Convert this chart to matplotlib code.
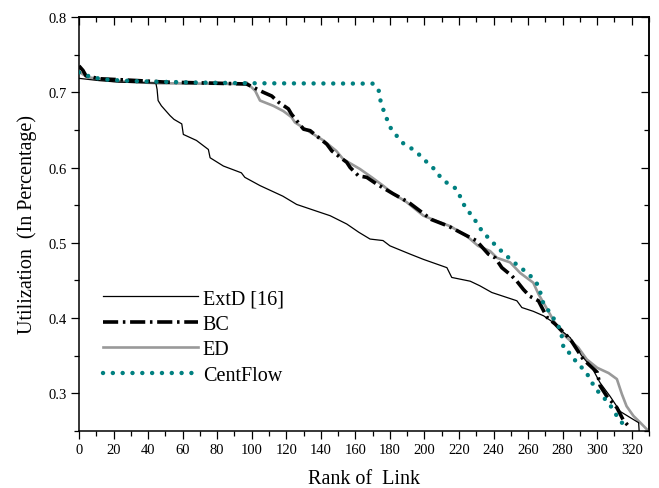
import matplotlib
matplotlib.use("Agg")
import matplotlib.pyplot as plt
from matplotlib.ticker import MultipleLocator, FormatStrFormatter

plt.rcParams['font.family'] = ['Liberation Serif', 'DejaVu Serif']

# ---- data ----
extd_x = [0, 11.6, 23, 44.5, 45.2, 45.8, 47.7, 52.7, 55, 59.5, 60.4, 68, 74.9, 75.9, 83.6, 94, 96,
          104.8, 118, 126, 137.6, 145.4, 155, 162, 168.5, 176, 180, 191.7, 199.4, 213, 215.8,
          226.5, 232, 239, 253.5, 256.4, 263, 269, 274.7, 280.5, 284.4, 291, 297, 301.7, 307.5,
          313.3, 319, 324, 324.3]
extd_y = [0.7185, 0.7155, 0.7135, 0.7122, 0.704, 0.689, 0.682, 0.669, 0.664, 0.658, 0.644, 0.636,
          0.624, 0.613, 0.602, 0.593, 0.587, 0.576, 0.562, 0.551, 0.542, 0.536, 0.525, 0.514,
          0.505, 0.503, 0.496, 0.485, 0.478, 0.467, 0.454, 0.449, 0.443, 0.434, 0.423, 0.414,
          0.409, 0.403, 0.394, 0.381, 0.374, 0.350, 0.334, 0.314, 0.296, 0.276, 0.268, 0.261, 0.250]

bc_x = [0, 2.3, 4, 11.6, 30, 50, 80, 97, 101, 106.7, 111.6, 115.4, 121.2, 123, 130, 133.8, 143.5,
        146.4, 155, 157, 161.8, 166.6, 172.4, 182, 190.7, 204, 214, 226.5, 230, 237, 241, 244.8,
        250.6, 253.5, 257.3, 261, 266, 268, 271, 275.7, 284.4, 292, 300, 301.7, 305.6, 311.4,
        315, 319]
bc_y = [0.735, 0.729, 0.722, 0.718, 0.716, 0.7135, 0.712, 0.711, 0.7065, 0.700, 0.695, 0.687,
        0.678, 0.671, 0.651, 0.649, 0.631, 0.622, 0.607, 0.600, 0.589, 0.587, 0.578, 0.565,
        0.554, 0.531, 0.522, 0.507, 0.503, 0.485, 0.480, 0.467, 0.456, 0.449, 0.438, 0.429,
        0.423, 0.414, 0.401, 0.392, 0.372, 0.345, 0.328, 0.310, 0.296, 0.281, 0.265, 0.254]

ed_x = [0, 5, 20, 45, 95, 97, 102, 104.8, 112.5, 118.3, 123, 125, 133.8, 141.5, 149, 153, 162.7,
        169.5, 176, 182, 189.7, 199.4, 207, 215, 224.5, 231, 238, 242, 249.6, 255.4, 263, 266,
        270, 276.7, 282.4, 289, 294, 300, 306.6, 311.4, 314.3, 317, 321, 325, 329.7]
ed_y = [0.727, 0.720, 0.715, 0.712, 0.711, 0.713, 0.702, 0.689, 0.682, 0.675, 0.667, 0.660,
        0.647, 0.636, 0.622, 0.611, 0.598, 0.587, 0.576, 0.565, 0.554, 0.536, 0.529, 0.522,
        0.509, 0.496, 0.489, 0.480, 0.474, 0.460, 0.447, 0.432, 0.416, 0.389, 0.374, 0.361,
        0.345, 0.334, 0.327, 0.319, 0.299, 0.283, 0.270, 0.261, 0.250]

cf_x = [0, 6, 12, 17.5, 30, 44.8, 67, 100, 170, 173.4, 174.3, 176, 180, 183.6, 187.8, 192.7, 197,
        201, 205.2, 208.7, 213.3, 218.3, 221, 223.6, 226.8, 229.9, 233.2, 237.6, 241.9, 246.3,
        250.9, 255.4, 259.3, 263, 266, 269, 272.8, 278.6, 280, 280.5, 285, 288, 293, 296, 298,
        301.7, 305.6, 308.5, 311.4, 315, 317]
cf_y = [0.7265, 0.721, 0.718, 0.7165, 0.715, 0.714, 0.713, 0.712, 0.7115, 0.704, 0.691, 0.678,
        0.654, 0.643, 0.632, 0.625, 0.617, 0.608, 0.599, 0.589, 0.579, 0.572, 0.560, 0.547,
        0.538, 0.528, 0.516, 0.505, 0.495, 0.485, 0.476, 0.467, 0.461, 0.452, 0.443, 0.418,
        0.407, 0.385, 0.371, 0.359, 0.352, 0.341, 0.330, 0.319, 0.310, 0.299, 0.290, 0.281,
        0.270, 0.259, 0.250]

labels = ['ExtD [16]', 'BC', 'ED', 'CentFlow']
x_ticks = list(range(0, 321, 20))

# ---- figure ----
fig = plt.figure(figsize=(6.59, 4.89), dpi=100)
ax = fig.add_axes([79/659, 1-432/489, (649-79)/659, (432-18)/489])

ax.plot(extd_x, extd_y, color='black', lw=0.9, label=labels[0], zorder=3)
ax.plot(bc_x, bc_y, color='black', lw=2.6, linestyle=(0, (4.2, 1.3, 0.7, 1.3)),
        label=labels[1], zorder=4)
ax.plot(ed_x, ed_y, color='#999999', lw=1.9, label=labels[2], zorder=2)
ax.plot(cf_x, cf_y, color='#008080', lw=3.2, linestyle=(0, (0.01, 2.2)),
        dash_capstyle='round', label=labels[3], zorder=5)

ax.set_xlim(0, 330)
ax.set_ylim(0.25, 0.8)
ax.set_xticks(x_ticks)
ax.xaxis.set_minor_locator(MultipleLocator(10))
ax.yaxis.set_major_locator(MultipleLocator(0.1))
ax.yaxis.set_minor_locator(MultipleLocator(0.05))
ax.yaxis.set_major_formatter(FormatStrFormatter('%.1f'))
ax.set_yticks([0.3, 0.4, 0.5, 0.6, 0.7, 0.8])

ax.tick_params(which='major', direction='out', length=6, width=0.9, labelsize=10.5, pad=3)
ax.tick_params(which='minor', direction='out', length=3.5, width=0.9)
for s in ax.spines.values():
    s.set_linewidth(1.1)

top = ax.secondary_xaxis('top')
top.set_xticks(x_ticks)
top.xaxis.set_minor_locator(MultipleLocator(10))
top.tick_params(which='major', direction='in', length=5.5, width=0.9, labeltop=False)
top.tick_params(which='minor', direction='in', length=3.5, width=0.9)
top.spines['top'].set_linewidth(1.1)

right = ax.secondary_yaxis('right')
right.yaxis.set_major_locator(MultipleLocator(0.1))
right.yaxis.set_minor_locator(MultipleLocator(0.05))
right.tick_params(which='major', direction='in', length=5.5, width=0.9, labelright=False)
right.tick_params(which='minor', direction='in', length=3.5, width=0.9)
right.spines['right'].set_linewidth(1.1)

ax.set_xlabel('Rank of  Link', fontsize=14.5, labelpad=9)
ax.set_ylabel('Utilization  (In Percentage)', fontsize=14.5, labelpad=8)

ax.legend(loc='upper left', bbox_to_anchor=(103/659, 1-290/489), bbox_transform=fig.transFigure,
          frameon=False, fontsize=14.5, handlelength=4.7, handletextpad=0.25,
          labelspacing=0.32, borderpad=0, borderaxespad=0)

fig.savefig('out.png', dpi=100)
